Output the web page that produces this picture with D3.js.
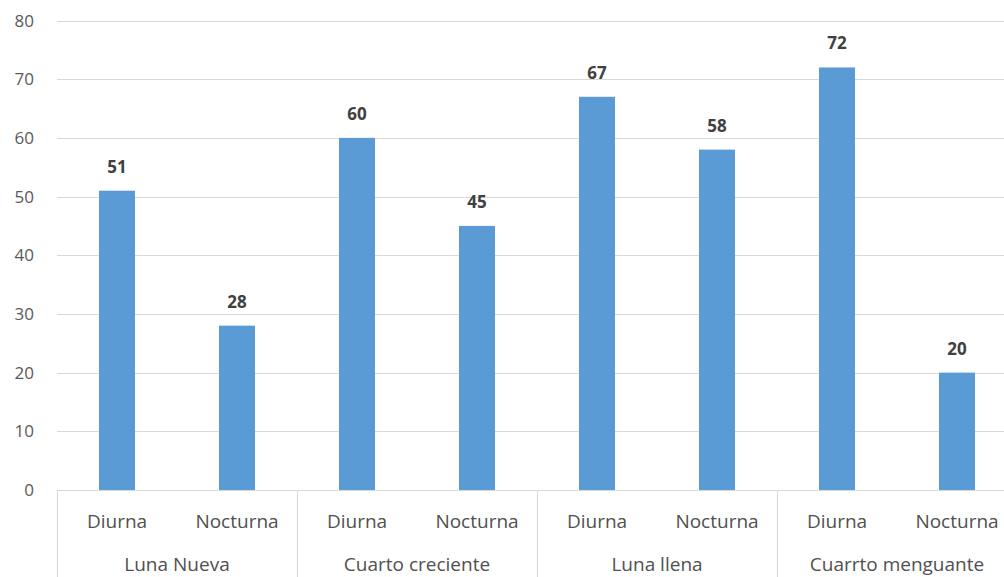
<!DOCTYPE html>
<html>
<head>
<meta charset="utf-8">
<script src="https://cdn.jsdelivr.net/npm/d3@7"></script>
<style>
  html, body { margin: 0; padding: 0; background: #fff; overflow: hidden; }
  svg { display: block; font-family: "Open Sans", "Noto Sans", sans-serif; }
</style>
</head>
<body>
<svg id="chart" width="1004" height="577"></svg>
<script>
// Moon phases and time of day
const phases = ["Luna Nueva", "Cuarto creciente", "Luna llena", "Cuarrto menguante"];
const periods = ["Diurna", "Nocturna"];
const diurna = [51, 60, 67, 72];
const nocturna = [28, 45, 58, 20];
const yTicks = [0, 10, 20, 30, 40, 50, 60, 70, 80];

const rows = [];
phases.forEach((p, i) => {
  rows.push({ phase: p, period: periods[0], value: diurna[i] });
  rows.push({ phase: p, period: periods[1], value: nocturna[i] });
});

const svg = d3.select("#chart");
const W = 1004;
const left = 57;
const plotRight = 1017; // the last group runs past the window edge

const y = d3.scaleLinear().domain([0, 80]).range([490, 20.5]);
const xGroup = d3.scaleBand().domain(phases).range([left, plotRight]).padding(0);
const xBar = d3.scaleBand().domain(periods).range([0, xGroup.bandwidth()]).padding(0);
const barW = 36;
const cx = d => xGroup(d.phase) + xBar(d.period) + xBar.bandwidth() / 2;

// horizontal gridlines
svg.append("g")
  .selectAll("line")
  .data(yTicks.filter(d => d > 0))
  .join("line")
  .attr("x1", left).attr("x2", W)
  .attr("y1", d => Math.round(y(d)) + 0.5).attr("y2", d => Math.round(y(d)) + 0.5)
  .attr("stroke", "#d9d9d9").attr("stroke-width", 1.2);

// y tick labels
svg.append("g")
  .selectAll("text")
  .data(yTicks)
  .join("text")
  .attr("x", 34).attr("y", d => y(d))
  .attr("dy", "0.36em")
  .attr("text-anchor", "end")
  .attr("font-size", 17)
  .attr("fill", "#595959")
  .text(d => d);

// bars
svg.append("g")
  .selectAll("rect")
  .data(rows)
  .join("rect")
  .attr("x", d => cx(d) - barW / 2)
  .attr("y", d => y(d.value))
  .attr("width", barW)
  .attr("height", d => y(0) - y(d.value))
  .attr("fill", "#5b9bd5");

// value labels
svg.append("g")
  .selectAll("text")
  .data(rows)
  .join("text")
  .attr("x", cx)
  .attr("y", d => y(d.value) - 18)
  .attr("text-anchor", "middle")
  .attr("font-size", 17)
  .attr("font-weight", "bold")
  .attr("fill", "#404040")
  .text(d => d.value);

// category axis: baseline and group separators
svg.append("line")
  .attr("x1", left).attr("x2", W)
  .attr("y1", y(0) + 0.5).attr("y2", y(0) + 0.5)
  .attr("stroke", "#d9d9d9").attr("stroke-width", 1.2);

svg.append("g")
  .selectAll("line")
  .data(phases)
  .join("line")
  .attr("x1", d => Math.round(xGroup(d)) + 0.5).attr("x2", d => Math.round(xGroup(d)) + 0.5)
  .attr("y1", y(0)).attr("y2", 577)
  .attr("stroke", "#d9d9d9").attr("stroke-width", 1.2);

// period labels
svg.append("g")
  .selectAll("text")
  .data(rows)
  .join("text")
  .attr("x", cx)
  .attr("y", 528)
  .attr("text-anchor", "middle")
  .attr("font-size", 19)
  .attr("font-weight", 500)
  .attr("fill", "#505050")
  .text(d => d.period);

// phase labels
svg.append("g")
  .selectAll("text")
  .data(phases)
  .join("text")
  .attr("x", d => xGroup(d) + xGroup.bandwidth() / 2)
  .attr("y", 571)
  .attr("text-anchor", "middle")
  .attr("font-size", 19)
  .attr("font-weight", 500)
  .attr("fill", "#505050")
  .text(d => d);
</script>
</body>
</html>
